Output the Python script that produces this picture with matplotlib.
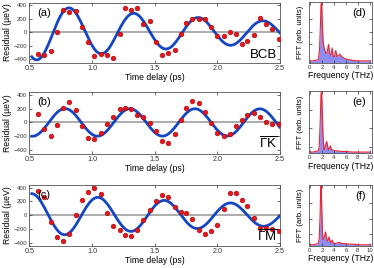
import numpy as np
import matplotlib
matplotlib.use("Agg")
from matplotlib import pyplot as plt

plt.rcParams['font.family'] = ['Liberation Sans', 'DejaVu Sans']
plt.rcParams['mathtext.fontset'] = 'custom'
plt.rcParams['mathtext.rm'] = 'Liberation Sans'

# time delays of the residual points (ps)
delay = [0.57, 0.62, 0.67, 0.72, 0.77, 0.82, 0.87, 0.92, 0.97, 1.02,
         1.07, 1.12, 1.17, 1.22, 1.26, 1.31, 1.36, 1.41, 1.46, 1.51,
         1.56, 1.61, 1.66, 1.71, 1.75, 1.80, 1.85, 1.90, 1.95, 2.00,
         2.05, 2.10, 2.15, 2.20, 2.24, 2.29, 2.34, 2.39, 2.44, 2.49]

# residuals (ueV)
resid_bcb = [-315, -340, -275, 0, 325, 300, 310, 78, -147, -354,
             -315, -330, -379, -20, 364, 335, 364, 118, 165, -138,
             -339, -300, -255, -30, 137, 190, 192, 200, 78, -55,
             -59, 5, -20, -167, -128, -44, 217, 118, 44, -93]
resid_gk = [124, -98, -197, -34, 203, 302, 178, -59, -231, -241,
            -157, -19, 80, 198, 203, 188, 104, 80, -9, -123,
            -271, -296, -167, 30, 213, 311, 287, 154, -9, -157,
            -193, -167, -59, 30, 114, 129, 80, 6, -19, -24]
resid_gm = [347, 267, -104, -320, -375, -276, -4, 222, 332, 396,
            307, 36, -153, -222, -296, -311, -212, -64, 74, 200,
            296, 258, 119, 44, 36, -53, -222, -276, -237, -138,
            95, 317, 317, 218, 133, -39, -187, -187, -202, -237]

# damped cosine fit parameters
fit_amp = [421, 200, 316]
fit_tau = [2.05, 100.0, 2.8]
fit_freq = [1.94, 1.93, 1.89]
fit_peak = [0.82, 0.785, 0.52]
fit_start = 0.52

# FFT spectra (arb. units)
fft_f_d = [0, 0.5, 1.0, 1.4, 1.6, 1.75, 1.85, 1.95, 2.05, 2.2, 2.35, 2.5, 2.7, 2.9,
           3.1, 3.3, 3.5, 3.7, 3.9, 4.1, 4.3, 4.5, 4.8, 5.0, 5.3, 5.6, 6.0, 6.5,
           7.0, 8.0, 9.0, 10.0]
fft_a_d = [0.03, 0.03, 0.04, 0.05, 0.2, 0.6, 0.95, 1.0, 0.7, 0.35, 0.25, 0.2, 0.15, 0.18,
           0.3, 0.15, 0.12, 0.24, 0.1, 0.1, 0.2, 0.1, 0.12, 0.14, 0.1, 0.08, 0.06, 0.05,
           0.04, 0.03, 0.03, 0.03]
fft_f_e = [0, 0.5, 1.0, 1.4, 1.55, 1.7, 1.85, 1.95, 2.05, 2.2, 2.35, 2.5, 2.65, 2.8,
           2.95, 3.1, 3.25, 3.4, 3.6, 3.9, 4.2, 4.6, 5.0, 6.0, 7.0, 8.0, 9.0, 10.0]
fft_a_e = [0.02, 0.02, 0.03, 0.04, 0.1, 0.45, 0.95, 1.0, 0.7, 0.25, 0.06, 0.08, 0.15, 0.19,
           0.12, 0.05, 0.08, 0.12, 0.06, 0.05, 0.04, 0.04, 0.03, 0.03, 0.02, 0.02, 0.02, 0.02]
fft_f_f = [0, 0.5, 1.0, 1.4, 1.55, 1.7, 1.8, 1.88, 1.98, 2.1, 2.2, 2.4, 2.6, 2.75,
           2.9, 3.05, 3.2, 3.35, 3.5, 3.7, 3.9, 4.2, 4.6, 4.9, 5.3, 5.8, 6.5, 7.2,
           8.0, 9.0, 10.0]
fft_a_f = [0.02, 0.02, 0.03, 0.04, 0.12, 0.5, 0.95, 1.0, 0.6, 0.2, 0.1, 0.15, 0.23, 0.15,
           0.08, 0.1, 0.15, 0.08, 0.05, 0.1, 0.05, 0.04, 0.05, 0.06, 0.04, 0.04, 0.03, 0.03,
           0.02, 0.02, 0.02]

resid_list = [resid_bcb, resid_gk, resid_gm]
fft_list = [(fft_f_d, fft_a_d), (fft_f_e, fft_a_e), (fft_f_f, fft_a_f)]
letters_left = ["(a)", "(b)", "(c)"]
letters_right = ["(d)", "(e)", "(f)"]
directions = ["BCB", r"$\overline{\mathrm{\Gamma K}}$", r"$\overline{\mathrm{\Gamma M}}$"]
fft_yticks = [[0.3, 0.5, 0.72], [0.1, 0.4, 0.7], [0.2, 0.45, 0.7]]

W, H = 374, 268
# (top, bottom) in pixels for each row
rows_px = [(2.5, 62.7), (92.0, 153.5), (185.0, 246.0)]
fft_rows_px = [(1.5, 62.7), (91.0, 153.3), (185.0, 246.0)]

fig = plt.figure(figsize=(W / 100, H / 100), dpi=100)

def style_axes(ax, xsize, ysize):
    ax.tick_params(direction="in", top=True, right=True, length=2, width=0.5,
                   pad=1.5, colors="#333333")
    ax.tick_params(axis="x", labelsize=xsize)
    ax.tick_params(axis="y", labelsize=ysize)
    for s in ax.spines.values():
        s.set_linewidth(0.6)
        s.set_color("#555555")

t_fit = np.linspace(fit_start, 2.5, 400)

for i in range(3):
    top, bot = rows_px[i]
    ax = fig.add_axes([29.3 / W, 1 - bot / H, (280 - 29.3) / W, (bot - top) / H])
    ax.axhline(0, color="#a0a0a0", lw=1.2, zorder=1)
    y_fit = fit_amp[i] * np.exp(-(t_fit - 0.5) / fit_tau[i]) * np.cos(2 * np.pi * fit_freq[i] * (t_fit - fit_peak[i]))
    ax.plot(t_fit, y_fit, color="#1446c4", lw=2.0, zorder=2)
    ax.plot(delay, resid_list[i], "o", ms=3.4, color="#e8131b", mec="#9a1010", mew=0.4, zorder=3)
    ax.set_xlim(0.5, 2.5)
    ax.set_ylim(-450, 440)
    ax.set_xticks([0.5, 1.0, 1.5, 2.0, 2.5])
    ax.set_xticklabels(["0.5", "1.0", "1.5", "2.0", "2.5"])
    ax.set_yticks([-400, -200, 0, 200, 400])
    style_axes(ax, 5.2, 4.3)
    ax.set_ylabel("Residual (\u00b5eV)", fontsize=6.2, labelpad=1)
    ax.set_xlabel("Time delay (ps)", fontsize=6.2, labelpad=1)
    ax.text(0.03, 0.83, letters_left[i], transform=ax.transAxes, fontsize=8,
            va="center", ha="left")
    ax.text(0.99, 0.03, directions[i], transform=ax.transAxes, fontsize=9.5,
            va="bottom", ha="right")

    ftop, fbot = fft_rows_px[i]
    bx = fig.add_axes([309.3 / W, 1 - fbot / H, (372.3 - 309.3) / W, (fbot - ftop) / H])
    fq, amp = fft_list[i]
    bx.fill_between(fq, 0, amp, color="#7878f0", alpha=0.85, lw=0)
    bx.plot(fq, amp, color="#ee2233", lw=0.8)
    bx.set_xlim(-0.1, 10.4)
    bx.set_ylim(0, 1.0)
    bx.set_xticks([0, 2, 4, 6, 8, 10])
    bx.set_yticks(fft_yticks[i])
    bx.set_yticklabels([])
    style_axes(bx, 4.3, 4.3)
    bx.set_ylabel("FFT (arb. units)", fontsize=5.6, labelpad=2)
    bx.set_xlabel("Frequency (THz)", fontsize=6.2, labelpad=1)
    bx.text(0.9, 0.82, letters_right[i], transform=bx.transAxes, fontsize=8,
            va="center", ha="right")

fig.savefig("out.png", dpi=100)
